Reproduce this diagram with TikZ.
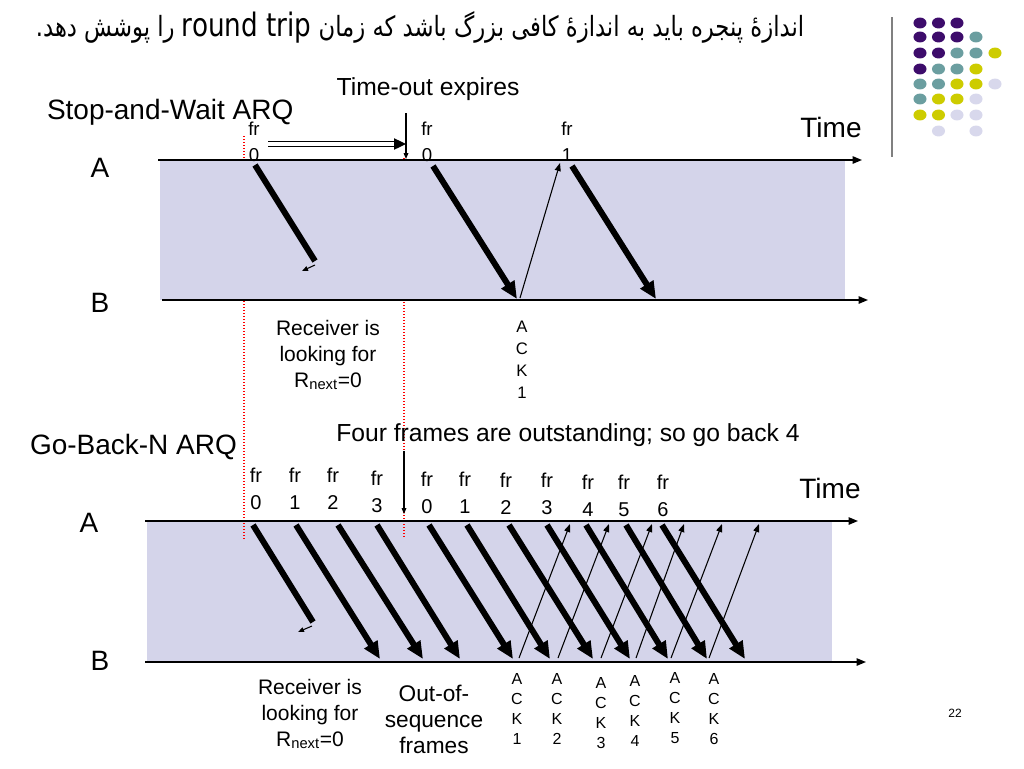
\documentclass[tikz,border=0pt]{standalone}
\usepackage{fontspec}
\setmainfont{Liberation Sans}
\newfontfamily\arabicfont[Script=Arabic]{DejaVu Sans}
\newfontfamily\latinfont{DejaVu Sans}
\TeXXeTstate=1
\usetikzlibrary{arrows.meta}
\definecolor{boxfill}{RGB}{212,212,234}
\definecolor{dotP}{RGB}{61,12,107}
\definecolor{dotT}{RGB}{107,158,160}
\definecolor{dotY}{RGB}{205,204,0}
\definecolor{dotL}{RGB}{216,216,236}
\definecolor{rulegray}{RGB}{128,128,128}
\newcommand\fs[2]{\fontsize{#1}{#2}\selectfont}
\begin{document}
\begin{tikzpicture}[x=0.75pt,y=-0.75pt,
  txt/.style={inner sep=0pt,outer sep=0pt},
  big/.style={txt,font=\fs{21}{25}},
  mid/.style={txt,font=\fs{18.5}{22}},
  frs/.style={txt,font=\fs{14}{19.5},align=center},
  frg/.style={txt,font=\fs{15}{20.25},align=center},
  note/.style={txt,font=\fs{15.75}{19.5},align=center},
  onote/.style={txt,font=\fs{17}{19.5},align=center},
  ackl/.style={txt,font=\fs{12}{15},align=center},
  ackls/.style={txt,font=\fs{12.5}{16.5},align=center},
  axis/.style={line width=1.1pt,-{Triangle[length=7pt,width=5.5pt]}},
  framearr/.style={line width=4.5pt,-{Triangle[length=13pt,width=11pt]}},
  lostarr/.style={line width=4.5pt},
  ackarr/.style={line width=0.8pt,-{Triangle[length=6pt,width=4.5pt]}},
  tinyarr/.style={line width=0.8pt,-{Triangle[length=4.5pt,width=3.5pt]}},
  redline/.style={red,line width=0.9pt,dash pattern=on 0.75pt off 1.5pt},
  dotshape/.style={x radius=4.9pt,y radius=4.1pt},
]
\useasboundingbox (0,0) rectangle (1024,768);

% ---------- title ----------
\node[txt,anchor=base] (title) at (420,36)
  {\scalebox{0.895}[1.1]{\arabicfont\fs{19}{22}\beginR اندازهٔ پنجره باید به اندازهٔ کافی بزرگ باشد که زمان {\latinfont\fs{22}{22}\beginL round trip\endL} را پوشش دهد.\endR}};

% ---------- decoration: rule and dots ----------
\coordinate (rul1) at (892,17); \coordinate (rul2) at (892,157);
\draw[rulegray,line width=1.2pt] (rul1) -- (rul2);
\foreach \x/\y/\c in {
  920/23/dotP, 938.5/23/dotP, 957/23/dotP,
  920/37/dotP, 938.5/37/dotP, 957/37/dotP, 976/37/dotT,
  920/53/dotP, 938.5/53/dotP, 957/53/dotT, 976/53/dotT, 995/53/dotY,
  920/69/dotP, 938.5/69/dotT, 957/69/dotT, 976/69/dotY,
  920/84/dotT, 938.5/84/dotT, 957/84/dotY, 976/84/dotY, 995/84/dotL,
  920/99/dotT, 938.5/99/dotY, 957/99/dotY, 976/99/dotL,
  920/115/dotY, 938.5/115/dotY, 957/115/dotL, 976/115/dotL,
  938.5/131/dotL, 976/131/dotL}
  {\fill[\c] (\x,\y) ellipse [dotshape];}

% ---------- panels and red guide lines ----------
\fill[boxfill] (147,521) rectangle (832,662);
\coordinate (r1t) at (244,136); \coordinate (r1b) at (244,541);
\coordinate (r2t) at (404,158); \coordinate (r2b) at (404,537);
\draw[redline] (r1t) -- (r1b);
\draw[redline] (r2t) -- (r2b);
\fill[boxfill] (160,160) rectangle (845,300);

% ---------- Stop-and-Wait ----------
\coordinate (swA0) at (158,160); \coordinate (swA1) at (862,160);
\coordinate (swB0) at (162,300); \coordinate (swB1) at (868,300);
\draw[axis] (swA0) -- (swA1);
\draw[axis] (swB0) -- (swB1);

\node[big,anchor=base west] (swtitle) at (47,119) {Stop-and-Wait ARQ};
\node[mid,anchor=base] (timeout) at (428,95) {Time-out expires};
\node[big,anchor=base] (swtime) at (831,137) {Time};
\node[big,anchor=base] (swA) at (100,177) {A};
\node[big,anchor=base] (swB) at (100,312) {B};

\node[frs,anchor=base] (swf1) at (254,161) {fr\\0};
\node[frs,anchor=base] (swf2) at (427,161) {fr\\0};
\node[frs,anchor=base] (swf3) at (567,161) {fr\\1};

\coordinate (dbl0) at (268,144); \coordinate (dbl1) at (406,144);
\draw[line width=0.9pt,double distance=2.3pt,-{Triangle[length=9pt,width=8.5pt]}] (dbl0) -- (dbl1);
\coordinate (to0) at (406,113); \coordinate (to1) at (406,159);
\draw[tinyarr] (to0) -- (to1);

\coordinate (sl0) at (255,165); \coordinate (sl1) at (315,261);
\draw[lostarr] (sl0) -- (sl1);
\coordinate (sl2) at (315,265); \coordinate (sl3) at (302,271);
\draw[tinyarr] (sl2) -- (sl3);
\coordinate (sf0) at (433,166); \coordinate (sf0e) at (517,299);
\draw[framearr] (sf0) -- (sf0e);
\coordinate (sk0) at (520,298); \coordinate (sk1) at (560,163);
\draw[ackarr] (sk0) -- (sk1);
\coordinate (sf1) at (572,166); \coordinate (sf1e) at (656,299);
\draw[framearr] (sf1) -- (sf1e);

\node[ackls,anchor=base] (swack) at (522,398) {A\\C\\K\\1};
\node[note,anchor=base] (swrcv) at (328,387) {Receiver is\\looking for\\R\textsubscript{next}=0};

% ---------- Go-Back-N ----------
\coordinate (gA0) at (145,521); \coordinate (gA1) at (858,521);
\coordinate (gB0) at (145,662); \coordinate (gB1) at (866,662);
\draw[axis] (gA0) -- (gA1);
\draw[axis] (gB0) -- (gB1);

\node[big,anchor=base west] (gbtitle) at (30,454) {Go-Back-N ARQ};
\node[mid,anchor=base] (gbnote) at (568,441) {Four frames are outstanding; so go back 4};
\node[big,anchor=base] (gbtime) at (830,498) {Time};
\node[big,anchor=base] (gbA) at (89,532) {A};
\node[big,anchor=base] (gbB) at (100,670) {B};

\foreach \x/\y/\n [count=\i] in {256/509/0, 295/509/1, 333/509/2, 377/512/3, 427/513/0, 465/513/1, 506/514/2, 547/514/3, 588/516/4, 624/516/5, 663/516/6}
  {\node[frg,anchor=base] (gf\i) at (\x,\y) {fr\\\n};}

\coordinate (gto0) at (404,451); \coordinate (gto1) at (404,514);
\draw[tinyarr] (gto0) -- (gto1);

\coordinate (gl0) at (253,525); \coordinate (gl1) at (313,622);
\draw[lostarr] (gl0) -- (gl1);
\coordinate (gl2) at (312,626); \coordinate (gl3) at (298,632);
\draw[tinyarr] (gl2) -- (gl3);

\foreach \s/\t [count=\i] in {296/380, 338/423, 377/460, 429/513, 467/550, 509/593, 547/630, 586/668, 626/707, 662/745}
  {\coordinate (gs\i) at (\s,525); \coordinate (ge\i) at (\t,659);
   \draw[framearr] (gs\i) -- (ge\i);}

\foreach \s/\t [count=\i] in {519/570, 558/609, 601/652, 636/684, 671/722, 709/759}
  {\coordinate (ks\i) at (\s,658); \coordinate (ke\i) at (\t,524);
   \draw[ackarr] (ks\i) -- (ke\i);}

\foreach \x/\y/\n [count=\i] in {517/744/1, 557/744/2, 601/748/3, 635/746/4, 675/743/5, 714/744/6}
  {\node[ackl,anchor=base] (gk\i) at (\x,\y) {A\\C\\K\\\n};}

\node[note,anchor=base] (gbrcv) at (310,746) {Receiver is\\looking for\\R\textsubscript{next}=0};
\node[onote,anchor=base] (gbout) at (434,753) {Out-of-\\sequence\\frames};

\node[txt,font=\fs{9}{11}] (pageno) at (955,713) {22};
\end{tikzpicture}
\end{document}
